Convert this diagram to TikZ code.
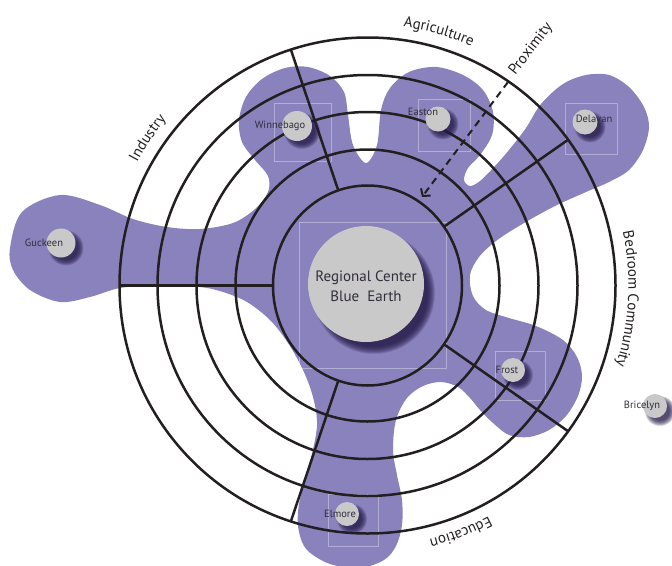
\documentclass[tikz,border=0pt]{standalone}
\usepackage{fontspec}
\setmainfont{PT Sans}
\usetikzlibrary{arrows.meta, decorations.text}
\definecolor{blobPurple}{RGB}{137, 130, 189}
\definecolor{townGrey}{RGB}{201, 201, 201}
\definecolor{shadowPurple}{RGB}{35, 25, 70}
\definecolor{ringBlack}{RGB}{35, 31, 32}
\definecolor{labelGrey}{RGB}{50, 45, 58}
\newcommand\ringfont{\fontsize{15}{17}\selectfont}
\tikzset{
  ring/.style={ringBlack, line width=2.5pt},
  townspot/.style={circle, fill=townGrey, inner sep=0pt},
  townlabel/.style={text=labelGrey, font=\fontsize{10.5}{12}\selectfont, inner sep=0pt},
  framebox/.style={draw=white, draw opacity=0.35, line width=0.6pt},
  arclabel/.style={decorate, decoration={text along path, text align=center, text color=ringBlack, text={|\ringfont|#1}}}
}

\begin{document}
\begin{tikzpicture}[x=1pt, y=-1pt]
  \useasboundingbox (0,0) rectangle (672,565);
  % settlement area
  \fill[blobPurple] plot[smooth cycle, tension=0.55] coordinates {
    (10,248) (22,212) (60,195) (100,205) (133,219) (167,227) (200,229) (233,223)
    (255,209) (268,192) (268,176) (255,160) (242,142) (239,120) (246,97) (262,79)
    (285,68) (308,67) (330,76) (344,92) (348,115) (353,145) (366,163) (377,145)
    (381,110) (390,88) (409,72) (436,67) (463,75) (483,90) (493,112) (492,135)
    (480,155) (468,168) (464,180) (470,186) (480,181) (495,166) (509,150) (526,128)
    (541,104) (563,84) (586,75) (609,75) (629,87) (644,107) (649,127) (643,150)
    (629,170) (609,182) (586,192) (553,207) (519,226) (496,241) (479,257) (470,275)
    (473,296) (486,310) (509,318) (536,326) (563,340) (577,357) (582,376) (578,396)
    (566,416) (549,430) (529,437) (509,435) (493,423) (480,410) (470,398) (458,387)
    (441,382) (423,386) (407,398) (396,420) (393,450) (397,475) (402,500) (402,525)
    (396,546) (384,560) (360,568) (330,564) (307,550) (299,532) (298,512) (303,485)
    (311,458) (317,425) (313,397) (303,370) (288,343) (270,320) (247,302) (223,292)
    (200,287) (160,285) (120,288) (90,297) (60,302) (30,290) (13,270)};
  % faint frames round the towns
  \foreach \a/\b/\c/\d in {274/103/331/161, 418/99/470/151, 565/103/617/154,
                           495/351/545/400, 328/494/378/546, 299/222/446/368}
    \draw[framebox] (\a,\b) rectangle (\c,\d);
  % rings, sectors and sector names
  \begin{scope}[shift={(367.5,285.5)}, y=1pt]
    \draw[ring] (0,0) circle (248);
    \draw[ring] (0,0) ellipse [x radius=210, y radius=210.5];
    \draw[ring] (0,0) ellipse [x radius=171, y radius=173.5];
    \draw[ring] (0,0) ellipse [x radius=132, y radius=136];
    \draw[ring] (0,0) ellipse [x radius=94.5, y radius=100];
    \foreach \t in {36,108,180,252,324}
      \draw[ring] (\t:94.5 and 100) -- (\t:248);
    \path[arclabel=Agriculture] (99.3:261) arc[start angle=99.3, end angle=49.3, radius=261];
    \path[arclabel=Industry] (171.2:261) arc[start angle=171.2, end angle=121.2, radius=261];
    \path[arclabel=Bedroom Community] (27:261) arc[start angle=27, end angle=-33, radius=261];
    \path[arclabel=Education] (-39.3:261) arc[start angle=-39.3, end angle=-99.3, radius=261];
  \end{scope}
  % proximity arrow
  \coordinate (proxStart) at (508,82);
  \coordinate (proxEnd) at (422,197);
  \draw[ringBlack, line width=2pt, dash pattern=on 7pt off 5pt,
        -{Straight Barb[length=5pt, width=12pt]}] (proxStart) -- (proxEnd);
  \node[rotate=52, text=ringBlack, font=\ringfont] (proximity) at (531,49) {Proximity};
  % towns
  \foreach \name/\x/\y/\r/\lx/\ly/\txt in {
      guckeen/61/243/14.5/44/243/Guckeen, winnebago/297/126/15/280/126/Winnebago,
      easton/438/119/12.5/423/112/Easton, delavan/585/122/12.5/594/119/Delavan,
      frost/513/370/12/507/370/Frost, bricelyn/655/406/12/642/406/Bricelyn,
      elmore/347/514/12/340/514/Elmore} {
    \foreach \k in {0,...,7}
      \fill[shadowPurple, opacity=0.17] ({\x+5},{\y+5}) circle ({\r+3-0.75*\k});
    \node[townspot, minimum size=2*\r] (\name) at (\x,\y) {};
    \node[townlabel] (\name-label) at (\lx,\ly) {\txt};
  }
  % regional center
  \foreach \k in {0,...,9}
    \fill[shadowPurple, opacity=0.15] (374,293) circle ({61-0.8*\k});
  \node[townspot, minimum size=116] (blueEarth) at (366,284) {};
  \node[align=center, text=labelGrey, font=\fontsize{15}{20}\selectfont] (blueEarth-label)
    at (366,286) {Regional Center\\Blue\ \ Earth};
\end{tikzpicture}
\end{document}
